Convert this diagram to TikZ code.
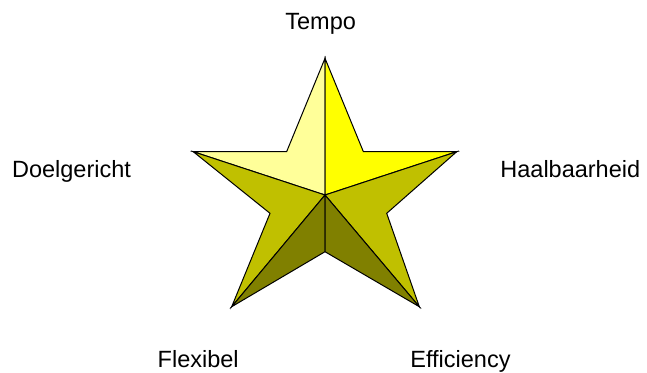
\documentclass[tikz,border=0pt]{standalone}
\usepackage{fontspec}
\setmainfont{Liberation Sans}
\definecolor{facelight}{HTML}{FFFF99}
\definecolor{facebright}{HTML}{FFFF00}
\definecolor{facemid}{HTML}{C0C000}
\definecolor{facedark}{HTML}{808000}
\begin{document}
\begin{tikzpicture}[x=0.5pt,y=-0.5pt,
  face/.style={draw=black,line width=0.5pt,line join=miter},
  lbl/.style={inner sep=0pt,font=\fontsize{11.75pt}{14pt}\selectfont}]
\useasboundingbox (0,0) rectangle (647,372);
% star vertices
\coordinate (T) at (325,58.3);
\coordinate (L) at (193.3,151.7);
\coordinate (R) at (456.7,151.7);
\coordinate (BL) at (231.7,306.7);
\coordinate (BR) at (419.3,306.7);
\coordinate (iTL) at (286.7,151.5);
\coordinate (iTR) at (363.3,151.5);
\coordinate (iL) at (270,213.3);
\coordinate (iR) at (386.7,213.3);
\coordinate (iB) at (325,251.7);
\coordinate (C) at (325,195);
% faces
\filldraw[face,fill=facelight] (T) -- (iTL) -- (L) -- (C) -- cycle;
\filldraw[face,fill=facebright] (T) -- (C) -- (R) -- (iTR) -- cycle;
\filldraw[face,fill=facemid] (L) -- (C) -- (BL) -- (iL) -- cycle;
\filldraw[face,fill=facemid] (R) -- (iR) -- (BR) -- (C) -- cycle;
\filldraw[face,fill=facedark] (C) -- (BL) -- (iB) -- cycle;
\filldraw[face,fill=facedark] (C) -- (iB) -- (BR) -- cycle;
% labels
\node[lbl,anchor=base west] (tempo) at (285,29) {Tempo};
\node[lbl,anchor=base west] (doel) at (11.7,177.7) {Doelgericht};
\node[lbl,anchor=base west] (haal) at (500,177.7) {Haalbaarheid};
\node[lbl,anchor=base west] (flex) at (157.3,367) {Flexibel};
\node[lbl,anchor=base west] (eff) at (410,367) {Efficiency};
\end{tikzpicture}
\end{document}
